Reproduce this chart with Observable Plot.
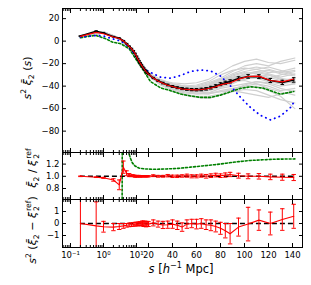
<!DOCTYPE html>
<html><head><meta charset="utf-8">
<script src="https://cdn.jsdelivr.net/npm/d3@7"></script>
<script src="https://cdn.jsdelivr.net/npm/@observablehq/plot@0.6"></script>
<style>
body{margin:0;background:#fff;font-family:"DejaVu Sans",sans-serif;}
#fig{position:relative;width:311px;height:285px;overflow:hidden;background:#fff}
#fig svg{position:absolute;left:0;display:block;background:transparent}
.lab{position:absolute;font-size:11px;white-space:nowrap;line-height:1;color:#000}
.rot{transform:translate(-50%,-50%) rotate(-90deg)}
.lab sup,.lab sub{font-size:70%}
.ss{display:inline-flex;flex-direction:column;vertical-align:middle;font-size:70%;line-height:1;margin-left:1px}
</style></head><body><div id="fig"></div><script>
// ---------- data ----------
const xMajorS = [0.1, 1, 10, 20, 40, 60, 80, 100, 120, 140];
const xMajorLabels = ["10⁻¹", "10⁰", "10¹", "20", "40", "60", "80", "100", "120", "140"];
const xMinorS = [0.06, 0.07, 0.08, 0.09, 0.2, 0.3, 0.4, 0.5, 0.6, 0.7, 0.8, 0.9, 2, 3, 4, 5, 6, 7, 8, 9];
const yTicksTop = [20, 0, -20, -40, -60, -80];
const yTicksMid = [0.8, 1.0, 1.2];
const yTicksBot = [-1, 0, 1];

// measurement grid
const sGrid = [0.2, 0.6, 1, 2, 3, 4, 5, 6, 7, 8, 9, 10, 11, 12, 13, 14, 15, 16, 17, 18, 19, 20,
  24, 28, 32, 36, 40, 44, 48, 52, 56, 60, 64, 68, 72, 76, 80, 84, 88,
  95, 103, 112, 121.5, 131.5, 141];
// reference (black) s^2 xi2
const refVals = [4.5, 8.8, 7.2, 3.9, 2.6, 0.3, -2.3, -4.6, -6.6, -8.6, -11, -13.5, -15.6, -17.5, -19.4, -21.1, -22.8, -24.3, -25.7, -27, -28.2, -29.3,
  -32.8, -35.3, -37.3, -39, -40.3, -41.4, -42.2, -42.8, -43.1, -43.2, -43, -42.4, -41.4, -40, -38.3, -37, -35.8,
  -33.2, -31.4, -31.6, -35, -36.7, -34.5];
const refErr = [0.2, 0.3, 0.3, 0.3, 0.3, 0.3, 0.3, 0.3, 0.3, 0.3, 0.3, 0.35, 0.35, 0.35, 0.4, 0.4, 0.4, 0.45, 0.45, 0.5, 0.5, 0.5,
  0.6, 0.65, 0.7, 0.75, 0.8, 0.85, 0.9, 0.95, 1.0, 1.05, 1.1, 1.15, 1.2, 1.25, 1.3, 1.35, 1.4,
  1.5, 1.6, 1.7, 1.8, 1.9, 2.0];
// measured (red) s^2 xi2
const measVals = [4.2, 7.8, 6.6, 3.6, 2.3, 0.2, -2.4, -4.7, -6.7, -8.6, -11, -13.5, -15.6, -17.5, -19.4, -21.1, -22.8, -24.3, -25.7, -27, -28.2, -29.3,
  -32.7, -35.4, -37.5, -39.2, -40.4, -41.6, -42.6, -42.9, -43.1, -43.3, -43, -42.6, -41.7, -40.5, -38.9, -37.9, -37.2,
  -33.8, -31.5, -31.1, -35, -36.2, -33.7];
// ratio (middle panel, red)
const ratioVals = [1.0, 0.985, 0.975, 0.94, 0.86, 1.15, 1.05, 1.02, 1.01, 1.01, 1.0, 1.0,
  1.0, 1.005, 0.995, 1.0, 1.0, 1.0, 1.0, 1.0, 1.0, 1.0,
  1.01, 1.0, 1.0, 1.01, 1.0, 1.0, 1.005, 1.01, 1.0, 1.0, 1.01, 1.0, 1.01, 1.02, 1.01, 1.02, 1.03,
  1.01, 1.0, 1.0, 0.99, 0.985, 0.98];
const ratioErr = [0.005, 0.005, 0.008, 0.02, 0.08, 0.1, 0.04, 0.025, 0.015, 0.015, 0.015, 0.015,
  0.01, 0.01, 0.01, 0.01, 0.01, 0.01, 0.01, 0.01, 0.01, 0.01,
  0.015, 0.015, 0.015, 0.02, 0.02, 0.02, 0.02, 0.025, 0.025, 0.025, 0.025, 0.03, 0.03, 0.03, 0.03, 0.035, 0.035,
  0.04, 0.04, 0.045, 0.045, 0.05, 0.05];
// difference (bottom panel, red)
const diffVals = [0.0, -0.2, -0.27, -0.3, -0.25, -0.2, -0.15, -0.12, -0.1, -0.08, -0.05, -0.05,
  -0.05, -0.02, 0.0, -0.05, 0.02, -0.05, 0.0, -0.08, -0.02, -0.05,
  0.05, -0.05, -0.12, -0.1, -0.05, -0.15, -0.3, -0.05, 0.0, -0.05, 0.0, -0.1, -0.15, -0.25, -0.4, -0.6, -0.85,
  -0.3, -0.05, 0.28, 0.0, 0.33, 0.6];
const diffErr = [4, 2.0, 0.45, 0.3, 0.25, 0.2, 0.15, 0.15, 0.15, 0.15, 0.15, 0.15,
  0.15, 0.15, 0.15, 0.15, 0.2, 0.2, 0.2, 0.2, 0.2, 0.2,
  0.25, 0.25, 0.3, 0.3, 0.35, 0.35, 0.35, 0.35, 0.35, 0.4, 0.4, 0.4, 0.45, 0.45, 0.5, 0.6, 0.85,
  0.75, 1.4, 0.85, 0.95, 0.9, 1.0];

// green dashed model
const greenS = [0.2, 0.3, 0.58, 1.17, 1.87, 3.35, 6, 10.3, 15, 21.7, 30, 38.3, 46.7, 55, 63.3, 71.7, 80, 88.3, 96.7, 105, 115.8, 130, 141];
const greenVals = [3, 4, 5.1, 2.1, -0.9, -2.3, -6.8, -17.3, -24.8, -36, -41.5, -44, -47, -48.7, -50, -50, -48, -45, -42, -40.6, -41.8, -47.2, -44.8];
// blue dotted model
const blueS = [0.2, 0.4, 0.66, 1, 1.5, 2.2, 3.35, 5.3, 8.5, 13.3, 17, 21.7, 30, 38.3, 46.7, 55, 63.3, 71.7, 80, 88.3, 96.7, 105, 113.3, 121.7, 130, 138.3, 142.5];
const blueVals = [3.5, 4.5, 5, 4.5, 3, 1.5, 0, -4, -11, -20.5, -25, -27.8, -32, -33, -30.5, -27, -25.7, -26.5, -31, -39.7, -50, -59, -66, -70, -66.6, -59, -52];
// green ratio (middle panel)
const greenRatioS = [3.66, 3.72, 5.0, 5.8, 6.5, 7.5, 9, 12, 17, 25, 35, 45, 55, 65, 75, 85, 95, 105, 115, 125, 135, 142];
const greenRatioVals = [0.3, 2.0, 1.75, 1.39, 1.3, 1.22, 1.17, 1.135, 1.12, 1.115, 1.12, 1.13, 1.15, 1.17, 1.19, 1.215, 1.24, 1.26, 1.27, 1.28, 1.283, 1.285];

// gray mock realisations
const grayS = [0.2, 1, 3, 6, 10, 20, 30, 40, 50, 60, 70, 80, 90, 100, 110, 120, 130, 142];
const grayLines = [
  [5, 8.3, 2.8, -4, -14, -29, -35, -37, -38, -37, -34, -28, -22, -18, -16, -19, -20, -17],
  [4, 7.3, 1.8, -5, -14, -30, -37, -42, -45, -47, -47, -44, -42, -40, -38, -40, -44, -42],
  [4.8, 8, 2.5, -4.2, -13, -28, -34, -38, -40, -39, -36, -30, -26, -24, -25, -28, -27, -24],
  [4.2, 7.5, 2, -4.8, -15, -31, -39, -44, -48, -50, -51, -48, -45, -43, -44, -48, -52, -55],
  [5, 8.3, 2.8, -4, -14, -29, -36, -39, -41, -43, -40, -36, -30, -27, -25, -23, -26, -30],
  [4, 7.3, 1.8, -5, -14, -30, -38, -41, -43, -44, -44, -41, -38, -33, -30, -32, -35, -33],
  [4.8, 8, 2.5, -4.2, -13, -29, -35, -40, -43, -42, -40, -35, -32, -30, -28, -30, -34, -38],
  [4.2, 7.5, 2, -4.8, -14, -30, -36, -40, -41, -40, -37, -33, -27, -22, -20, -22, -18, -15],
  [5, 8.3, 2.8, -4, -15, -31, -38, -43, -46, -47, -46, -42, -40, -38, -36, -37, -40, -38],
  [4, 7.3, 1.8, -5, -14, -29, -37, -41, -42, -44, -43, -40, -36, -35, -38, -42, -45, -48],
  [4.8, 8, 2.5, -4.2, -14, -29, -36, -39, -40, -41, -39, -34, -31, -28, -29, -33, -30, -27],
  [4.2, 7.5, 2, -4.8, -13, -28, -35, -39, -42, -45, -46, -45, -43, -41, -40, -44, -49, -60],
  [5, 8.3, 2.8, -4, -14, -30, -37, -42, -44, -43, -41, -38, -34, -30, -27, -26, -29, -31],
  [4, 7.3, 1.8, -5, -14, -29, -36, -40, -41, -41, -38, -34, -29, -25, -23, -25, -28, -26],
  [4.8, 8, 2.5, -4.2, -15, -30, -38, -42, -45, -46, -47, -45, -44, -46, -48, -50, -47, -44],
  [4.2, 7.5, 2, -4.8, -14, -29, -35, -38, -40, -41, -41, -39, -35, -33, -33, -36, -38, -36],
  [5, 8.3, 2.8, -4, -14, -30, -37, -41, -44, -45, -44, -40, -37, -34, -32, -30, -33, -35],
  [4, 7.3, 1.8, -5, -13, -29, -36, -40, -42, -41, -39, -36, -33, -29, -27, -29, -32, -29],
  [4.8, 8, 2.5, -4.2, -14, -30, -38, -43, -47, -49, -49, -47, -43, -39, -36, -38, -42, -45],
  [4.2, 7.5, 2, -4.8, -14, -29, -36, -40, -43, -43, -42, -37, -33, -31, -31, -35, -37, -34]
];
const refLineS = [0.2, 142];

// ---------- helpers ----------
const fx = s => s <= 10 ? Math.log10(s) : 1 + (s - 10) / 27.5;   // hybrid log/linear axis
const X_DOMAIN = [-1.242, 6.03];
const xMajor = xMajorS.map(fx);
const xMinor = xMinorS.map(fx);
const capSym = {draw(ctx, size) { const w = Math.sqrt(size / Math.PI); ctx.moveTo(-w, 0); ctx.lineTo(w, 0); }};
const FONT = "DejaVu Sans";

const grid = sGrid.map((s, i) => ({s, ref: refVals[i], refE: refErr[i], meas: measVals[i],
  rat: ratioVals[i], ratE: ratioErr[i], dif: diffVals[i], difE: diffErr[i]}));
const grayRows = grayLines.flatMap((vals, k) => grayS.map((s, j) => ({s, v: vals[j], k})));
const green = greenS.map((s, i) => ({s, v: greenVals[i]}));
const blue = blueS.map((s, i) => ({s, v: blueVals[i]}));
const greenRatio = greenRatioS.map((s, i) => ({s, v: greenRatioVals[i]}));
const X = d => fx(d.s);

function frameTicks(yTicks, fmt, showX) {
  const none = () => "";
  const m = [
    Plot.axisX(xMajor, {anchor: "top", tickSize: -4, tickFormat: none, label: null}),
    Plot.axisX(xMajor, {anchor: "bottom", tickSize: -4, tickFormat: none, label: null}),
    Plot.axisX(xMinor, {anchor: "top", tickSize: -2, tickFormat: none, label: null}),
    Plot.axisX(xMinor, {anchor: "bottom", tickSize: -2, tickFormat: none, label: null}),
    Plot.axisY(yTicks, {anchor: "left", tickSize: -4, tickFormat: none, label: null}),
    Plot.axisY(yTicks, {anchor: "right", tickSize: -4, tickFormat: none, label: null}),
    Plot.axisY(yTicks, {anchor: "left", tickSize: 0, tickPadding: 3, tickFormat: fmt, label: null, fontSize: 8.5}),
    Plot.frame({stroke: "black", strokeWidth: 1})
  ];
  if (showX) m.push(Plot.axisX(xMajor, {anchor: "bottom", tickSize: 0, tickPadding: 4, label: null, fontSize: 8.5,
    tickFormat: v => xMajorLabels[xMajor.indexOf(v)]}));
  return m;
}

function panel(top, height, mt, mb, yDomain, marks) {
  const svg = Plot.plot({
    width: 311, height, marginLeft: 62, marginRight: 9, marginTop: mt, marginBottom: mb,
    x: {domain: X_DOMAIN},
    y: {domain: yDomain},
    style: {fontFamily: FONT, fontSize: "8.5px", background: "transparent", color: "black"},
    marks
  });
  svg.style.top = top + "px";
  document.getElementById("fig").appendChild(svg);
}

function errorMarks(data, yv, ye, color, r) {
  return [
    Plot.ruleX(data, {x: X, y1: d => d[yv] - d[ye], y2: d => d[yv] + d[ye], stroke: color, strokeWidth: 1, clip: true}),
    Plot.dot(data, {x: X, y: d => d[yv] + d[ye], symbol: capSym, r, stroke: color, fill: "none", strokeWidth: 1, clip: true}),
    Plot.dot(data, {x: X, y: d => d[yv] - d[ye], symbol: capSym, r, stroke: color, fill: "none", strokeWidth: 1, clip: true})
  ];
}

// ---------- top panel ----------
panel(0, 152, 8, 0, [-99, 29], [
  Plot.line(grayRows, {x: X, y: "v", z: "k", stroke: "#cfcfcf", strokeWidth: 1.1, clip: true}),
  Plot.line(green, {x: X, y: "v", stroke: "#008000", strokeWidth: 1.6, strokeDasharray: "2,2", clip: true}),
  Plot.line(blue, {x: X, y: "v", stroke: "#0000ff", strokeWidth: 1.8, strokeDasharray: "0.3,4.5", strokeLinecap: "round", clip: true}),
  Plot.line(grid, {x: X, y: "ref", stroke: "black", strokeWidth: 1.6, clip: true}),
  ...errorMarks(grid, "ref", "refE", "black", 1.8),
  Plot.line(grid, {x: X, y: "meas", stroke: "#ff0000", strokeWidth: 1.1, clip: true}),
  ...frameTicks(yTicksTop, d3.format("d"), false)
]);

// ---------- middle panel ----------
panel(152, 47, 0, 0, [0.62, 1.39], [
  Plot.line(greenRatio, {x: X, y: "v", stroke: "#008000", strokeWidth: 1.6, strokeDasharray: "2,2", clip: true}),
  Plot.ruleY([1], {x1: fx(refLineS[0]), x2: fx(refLineS[1]), stroke: "black", strokeWidth: 1.5, strokeDasharray: "5,3"}),
  Plot.line(grid, {x: X, y: "rat", stroke: "#ff0000", strokeWidth: 1.1, clip: true}),
  ...errorMarks(grid, "rat", "ratE", "#ff0000", 2.2),
  ...frameTicks(yTicksMid, d3.format(".1f"), false)
]);

// ---------- bottom panel ----------
panel(199, 86, 0, 38, [-2, 2], [
  Plot.ruleY([0], {x1: fx(refLineS[0]), x2: fx(refLineS[1]), stroke: "black", strokeWidth: 1.5, strokeDasharray: "5,3"}),
  Plot.line(grid, {x: X, y: "dif", stroke: "#ff0000", strokeWidth: 1.1, clip: true}),
  ...errorMarks(grid, "dif", "difE", "#ff0000", 2.2),
  ...frameTicks(yTicksBot, d3.format("d"), true)
]);

// ---------- axis titles ----------
const fig = document.getElementById("fig");
function addLabel(html, x, y, rotate, size) {
  const d = document.createElement("div");
  d.className = "lab" + (rotate ? " rot" : "");
  d.innerHTML = html;
  d.style.left = x + "px"; d.style.top = y + "px";
  if (size) d.style.fontSize = size + "px";
  if (!rotate) d.style.transform = "translate(-50%,-50%)";
  fig.appendChild(d);
}
const xiBar = '<i>ξ&#772;</i><sub>2</sub>';
const xiRef = '<i>ξ</i><span class="ss"><span>ref</span><span>2</span></span>';
addLabel('<i>s</i><sup>2</sup> ' + xiBar + ' (<i>s</i>)', 28, 78, true, 11);
addLabel(xiBar + ' / ' + xiRef, 33, 168, true, 11);
addLabel('<i>s</i><sup>2</sup> (' + xiBar + ' − ' + xiRef + ')', 33, 230, true, 11);
addLabel('<i>s</i> [<i>h</i><sup>−1</sup> Mpc]', 181, 269, false, 11.5);
</script></body></html>
